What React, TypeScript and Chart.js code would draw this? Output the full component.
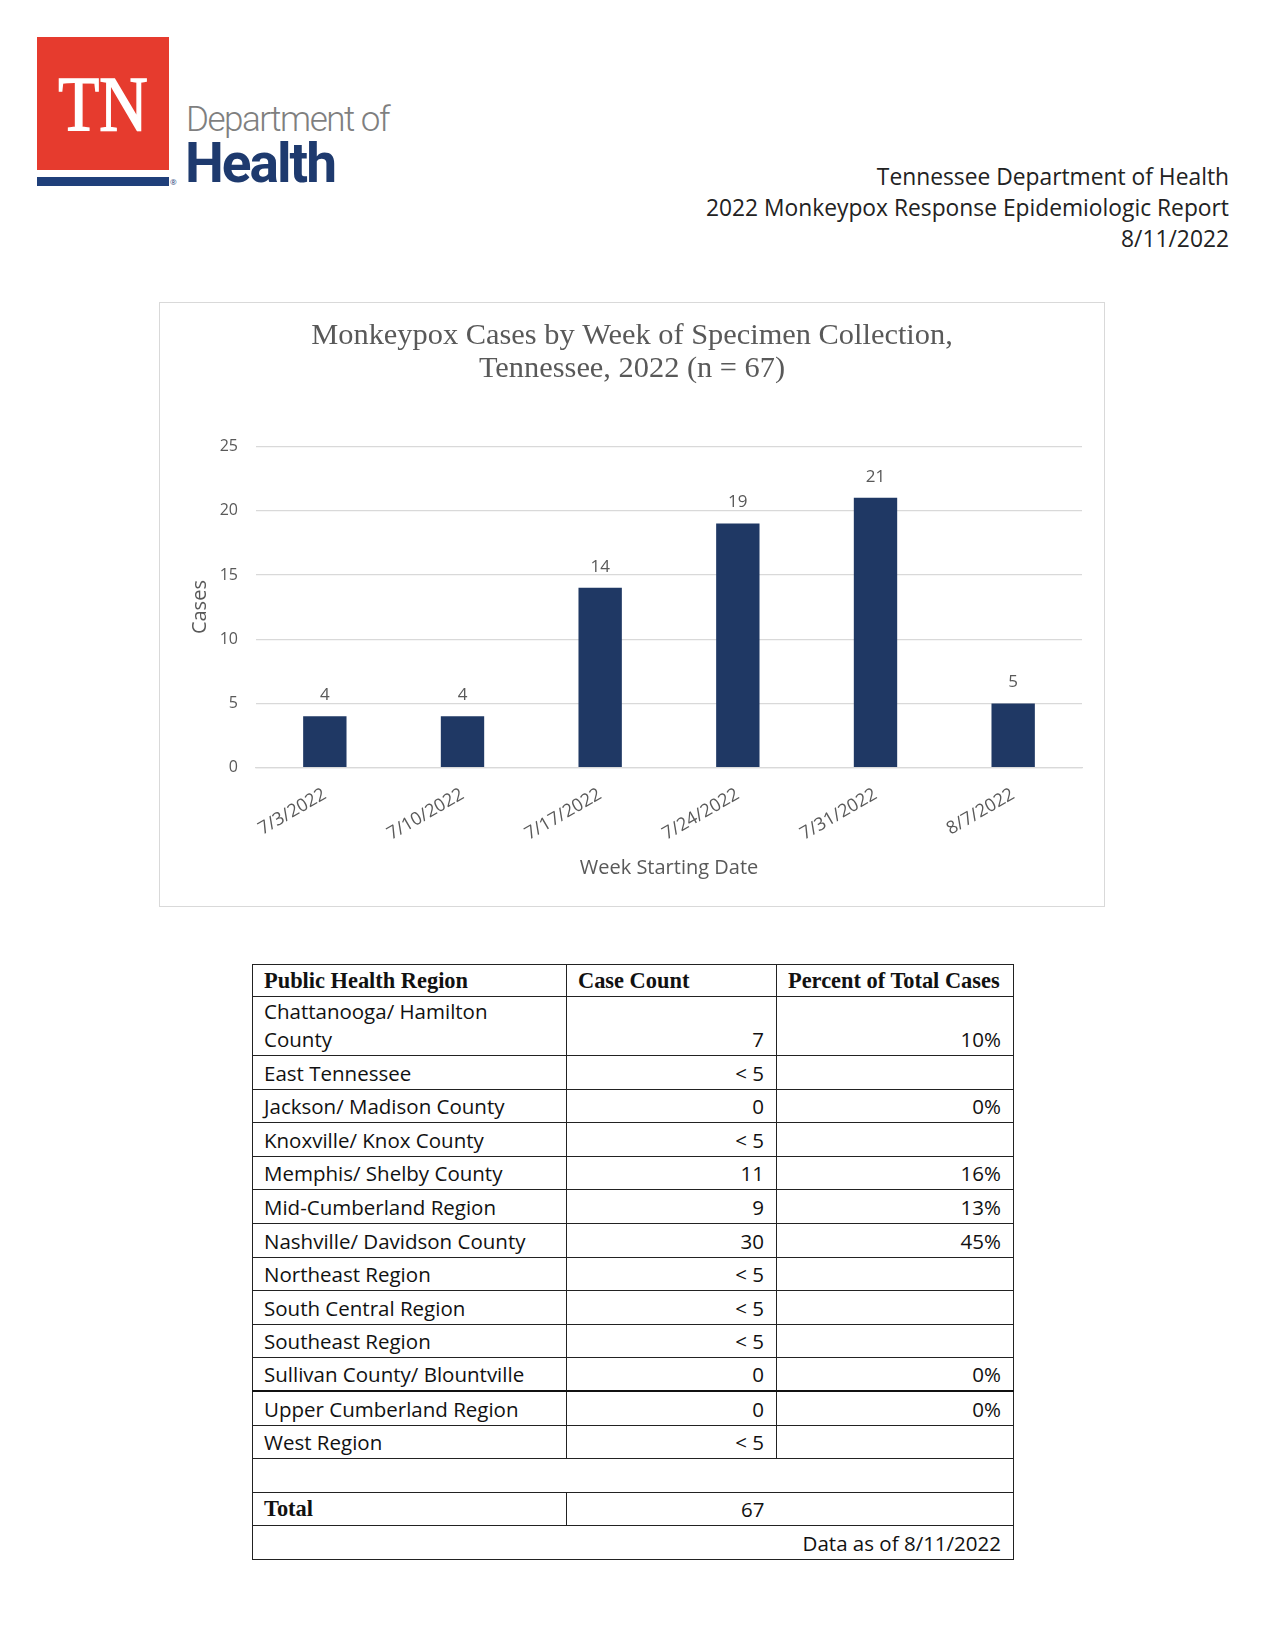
import React, { useEffect, useRef } from "react";
import { Chart, registerables } from "chart.js";

Chart.register(...registerables);

// ---------- data ----------
const weekLabels = ["7/3/2022", "7/10/2022", "7/17/2022", "7/24/2022", "7/31/2022", "8/7/2022"];
const weeklyCases = [4, 4, 14, 19, 21, 5];
const yAxisMax = 25;
const yAxisStep = 5;

const chartTitle = ["Monkeypox Cases by Week of Specimen Collection,", "Tennessee, 2022 (n = 67)"];
const yAxisTitle = "Cases";
const xAxisTitle = "Week Starting Date";

const headerLines = [
  "Tennessee Department of Health",
  "2022 Monkeypox Response Epidemiologic Report",
  "8/11/2022",
];

const tableHeaders = ["Public Health Region", "Case Count", "Percent of Total Cases"];
const regionNames = [
  "Chattanooga/ Hamilton\nCounty",
  "East Tennessee",
  "Jackson/ Madison County",
  "Knoxville/ Knox County",
  "Memphis/ Shelby County",
  "Mid-Cumberland Region",
  "Nashville/ Davidson County",
  "Northeast Region",
  "South Central Region",
  "Southeast Region",
  "Sullivan County/ Blountville",
  "Upper Cumberland Region",
  "West Region",
];
const regionCounts = ["7", "< 5", "0", "< 5", "11", "9", "30", "< 5", "< 5", "< 5", "0", "0", "< 5"];
const regionPercents = ["10%", "", "0%", "", "16%", "13%", "45%", "", "", "", "0%", "0%", ""];
const totalLabel = "Total";
const totalCases = "67";
const dataAsOf = "Data as of 8/11/2022";

// ---------- styles ----------
const GRAY = "#595959";
const NAVY_BAR = "#1f3864";
const SANS = '"Open Sans", sans-serif';
const SERIF = '"Liberation Serif", serif';

const valueLabelPlugin = {
  id: "valueLabels",
  afterDatasetsDraw(chart: any) {
    const ctx = chart.ctx;
    const meta = chart.getDatasetMeta(0);
    const values = chart.data.datasets[0].data;
    ctx.save();
    ctx.font = `17px ${SANS}`;
    ctx.fillStyle = GRAY;
    ctx.textAlign = "center";
    ctx.textBaseline = "middle";
    meta.data.forEach((bar: any, i: number) => {
      ctx.fillText(String(values[i]), bar.x, bar.y - 21);
    });
    ctx.restore();
  },
};

function CasesChart() {
  const canvasRef = useRef<HTMLCanvasElement | null>(null);
  useEffect(() => {
    let chart: Chart | null = null;
    let cancelled = false;
    const make = () => {
      if (cancelled || !canvasRef.current) return;
      chart = new Chart(canvasRef.current, {
        type: "bar",
        data: {
          labels: weekLabels,
          datasets: [
            {
              data: weeklyCases,
              backgroundColor: NAVY_BAR,
              barPercentage: 1,
              categoryPercentage: 0.315,
              yAxisID: "y",
            },
          ],
        },
        options: {
          animation: false,
          responsive: false,
          devicePixelRatio: 1,
          layout: { padding: { left: 11, right: 11, top: 0, bottom: 0 } },
          plugins: {
            legend: { display: false },
            tooltip: { enabled: false },
            title: {
              display: true,
              text: chartTitle,
              color: GRAY,
              font: { family: SERIF, size: 30.4, lineHeight: 1.085, weight: "normal" },
              padding: { top: 16.5, bottom: 61 },
            },
          },
          scales: {
            x: {
              grid: { display: false, drawTicks: false },
              border: { display: true, color: "#d9d9d9", width: 1.3 },
              ticks: {
                color: GRAY,
                font: { family: SANS, size: 18 },
                minRotation: 30,
                maxRotation: 30,
                padding: 16,
                autoSkip: false,
              },
              title: {
                display: true,
                text: xAxisTitle,
                color: GRAY,
                font: { family: SANS, size: 20 },
                padding: { top: 0, bottom: 26 },
              },
              afterFit: (scale: any) => {
                scale.height = 138.3;
              },
            },
            y: {
              min: 0,
              max: yAxisMax,
              ticks: {
                stepSize: yAxisStep,
                color: GRAY,
                font: { family: SANS, size: 16 },
                padding: 18,
              },
              grid: { color: "#d9d9d9", lineWidth: 1.3, drawTicks: false },
              border: { display: false },
              title: {
                display: true,
                text: yAxisTitle,
                color: GRAY,
                font: { family: SANS, size: 20 },
                padding: { top: 17, bottom: 0 },
              },
              afterFit: (scale: any) => {
                scale.width = 85;
              },
            },
            spacer: {
              type: "linear",
              position: "right",
              display: true,
              grid: { display: false, drawTicks: false },
              border: { display: false },
              ticks: { display: false },
              afterFit: (scale: any) => {
                scale.width = 11;
              },
            },
          },
        },
        plugins: [valueLabelPlugin],
      } as any);
    };
    const fontsReady = (document as any).fonts
      ? Promise.all([
          (document as any).fonts.load(`16px "Open Sans"`),
          (document as any).fonts.load(`30px "Liberation Serif"`),
        ]).catch(() => null)
      : Promise.resolve(null);
    fontsReady.then(make);
    return () => {
      cancelled = true;
      if (chart) chart.destroy();
    };
  }, []);
  return (
    <canvas
      ref={canvasRef}
      width={944}
      height={603}
      style={{ position: "absolute", left: 0, top: 0, width: 944, height: 603 }}
    />
  );
}

const cellBase: React.CSSProperties = {
  border: "1px solid #222",
  padding: "0 12px 2px 11px",
  verticalAlign: "bottom",
  lineHeight: "28px",
  whiteSpace: "pre-line",
};

export default function App() {
  return (
    <div
      style={{
        position: "absolute",
        left: 0,
        top: 0,
        width: 1265,
        height: 1638,
        background: "#fff",
        overflow: "hidden",
        fontFamily: SANS,
      }}
    >
      {/* Logo */}
      <div style={{ position: "absolute", left: 37, top: 37, width: 132, height: 133, background: "#e63b2e" }} />
      <div
        style={{
          position: "absolute",
          left: 37,
          top: 65,
          width: 132,
          textAlign: "center",
          color: "#fff",
          fontFamily: SERIF,
          fontSize: 78,
          lineHeight: "78px",
          transform: "scaleX(0.86)",
          WebkitTextStroke: "1.6px #fff",
        }}
      >
        TN
      </div>
      <div style={{ position: "absolute", left: 37, top: 177, width: 132, height: 9, background: "#1f3f7a" }} />
      <div style={{ position: "absolute", left: 170, top: 178, fontSize: 8, lineHeight: "8px", color: "#1f3f7a" }}>®</div>
      <div
        style={{
          position: "absolute",
          left: 186,
          top: 102,
          fontFamily: "Roboto, sans-serif",
          fontWeight: 300,
          fontSize: 35,
          lineHeight: "35px",
          letterSpacing: -1.5,
          color: "#7f7f7f",
          whiteSpace: "nowrap",
        }}
      >
        Department of
      </div>
      <div
        style={{
          position: "absolute",
          left: 185,
          top: 136,
          fontFamily: "Roboto, sans-serif",
          fontWeight: 700,
          fontSize: 55,
          lineHeight: "55px",
          letterSpacing: -2,
          color: "#1e3a6e",
          whiteSpace: "nowrap",
        }}
      >
        Health
      </div>

      {/* Report header */}
      <div
        style={{
          position: "absolute",
          left: 0,
          top: 161,
          width: 1229,
          textAlign: "right",
          fontFamily: SANS,
          fontSize: 22.8,
          lineHeight: "31px",
          color: "#222",
        }}
      >
        {headerLines.map((l) => (
          <div key={l}>{l}</div>
        ))}
      </div>

      {/* Chart box */}
      <div
        style={{
          position: "absolute",
          left: 159,
          top: 302,
          width: 946,
          height: 605,
          border: "1px solid #d9d9d9",
          boxSizing: "border-box",
        }}
      >
        <CasesChart />
      </div>

      {/* Table */}
      <table
        style={{
          position: "absolute",
          left: 252,
          top: 964,
          width: 761,
          borderCollapse: "collapse",
          tableLayout: "fixed",
          fontFamily: SANS,
          fontSize: 20.5,
          color: "#111",
        }}
      >
        <colgroup>
          <col style={{ width: 314 }} />
          <col style={{ width: 210 }} />
          <col style={{ width: 237 }} />
        </colgroup>
        <tbody>
          <tr style={{ height: 32 }}>
            {tableHeaders.map((h) => (
              <td
                key={h}
                style={{
                  ...cellBase,
                  fontFamily: SERIF,
                  fontWeight: 700,
                  fontSize: 22.4,
                  lineHeight: "26px",
                  whiteSpace: "nowrap",
                  paddingRight: 2,
                  overflow: "hidden",
                }}
              >
                {h}
              </td>
            ))}
          </tr>
          {regionNames.map((name, i) => {
            const thick = name.startsWith("Upper Cumberland");
            const extra: React.CSSProperties = thick ? { borderTop: "2px solid #111" } : {};
            return (
              <tr key={name} style={{ height: i === 0 ? 58 : 33.6 }}>
                <td style={{ ...cellBase, ...extra }}>{name}</td>
                <td style={{ ...cellBase, ...extra, textAlign: "right" }}>{regionCounts[i]}</td>
                <td style={{ ...cellBase, ...extra, textAlign: "right" }}>{regionPercents[i]}</td>
              </tr>
            );
          })}
          <tr style={{ height: 33.6 }}>
            <td colSpan={3} style={cellBase}></td>
          </tr>
          <tr style={{ height: 33.4 }}>
            <td style={{ ...cellBase, fontFamily: SERIF, fontWeight: 700, fontSize: 22.4 }}>{totalLabel}</td>
            <td style={{ ...cellBase, textAlign: "right", borderRight: "hidden" }}>{totalCases}</td>
            <td style={{ ...cellBase, borderLeft: "hidden" }}></td>
          </tr>
          <tr style={{ height: 34 }}>
            <td colSpan={3} style={{ ...cellBase, textAlign: "right" }}>
              {dataAsOf}
            </td>
          </tr>
        </tbody>
      </table>
    </div>
  );
}
